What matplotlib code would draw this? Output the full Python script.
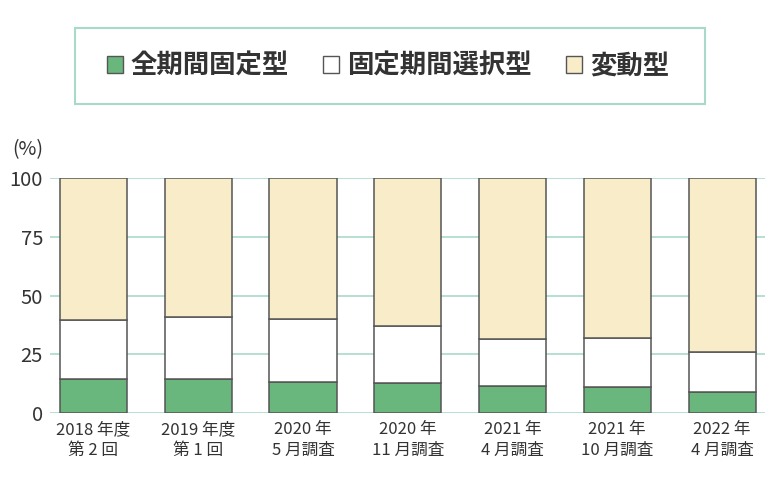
import matplotlib.pyplot as plt
from matplotlib.patches import Rectangle, Patch

plt.rcParams['font.family'] = ['Noto Sans CJK JP', 'DejaVu Sans']

labels = ['2018 年度\n第 2 回', '2019 年度\n第 1 回', '2020 年\n5 月調査', '2020 年\n11 月調査',
          '2021 年\n4 月調査', '2021 年\n10 月調査', '2022 年\n4 月調査']
zenki = [14.5, 14.5, 13.2, 12.8, 11.5, 11.1, 8.9]
kotei = [25.1, 26.4, 26.8, 24.2, 20.0, 20.8, 17.1]
hendo = [60.4, 59.1, 60.0, 63.0, 68.5, 68.1, 74.0]
series_names = ['全期間固定型', '固定期間選択型', '変動型']

c_green = '#6ab77e'
c_white = '#ffffff'
c_cream = '#f8ecc9'
c_edge = '#555555'
c_grid = '#a9d9cb'
c_text = '#333333'

fig = plt.figure(figsize=(7.8, 4.82), dpi=100)
ax = fig.add_axes([50 / 780, 69 / 482, 715 / 780, 235 / 482])

x = list(range(len(labels)))
w = 0.64
bottom2 = [a + b for a, b in zip(zenki, kotei)]
ax.bar(x, zenki, w, color=c_green, edgecolor=c_edge, linewidth=1.1, zorder=3)
ax.bar(x, kotei, w, bottom=zenki, color=c_white, edgecolor=c_edge, linewidth=1.1, zorder=3)
ax.bar(x, hendo, w, bottom=bottom2, color=c_cream, edgecolor=c_edge, linewidth=1.1, zorder=3)

ax.set_xlim(-0.415, 6.41)
ax.set_ylim(0, 100)
ax.set_yticks([0, 25, 50, 75, 100])
ax.yaxis.grid(True, color=c_grid, linewidth=1.2, zorder=0)
ax.set_axisbelow(True)
for s in ax.spines.values():
    s.set_visible(False)
ax.tick_params(axis='y', length=0, pad=5, labelsize=14.5, labelcolor=c_text)
ax.tick_params(axis='x', length=0, pad=6, labelsize=12, labelcolor=c_text)
ax.set_xticks(x)
ax.set_xticklabels(labels, linespacing=1.25)

fig.text(12 / 780, 1 - 150 / 482, '(%)', fontsize=14, color=c_text, va='center', ha='left')

# legend box
fig.patches.append(Rectangle((75 / 780, 1 - 104 / 482), 630 / 780, 76 / 482,
                             transform=fig.transFigure, fill=False,
                             edgecolor=c_grid, linewidth=1.5))
handles = [Patch(facecolor=c, edgecolor=c_edge, linewidth=1.0) for c in (c_green, c_white, c_cream)]
leg = fig.legend(handles, series_names, loc='center', bbox_to_anchor=(388 / 780, 1 - 66 / 482),
                 ncol=3, frameon=False, prop={'size': 19, 'weight': 'bold'},
                 handlelength=0.6, handleheight=0.6, handletextpad=0.3, columnspacing=1.3)
for t in leg.get_texts():
    t.set_color(c_text)

fig.savefig('out.png', dpi=100)
